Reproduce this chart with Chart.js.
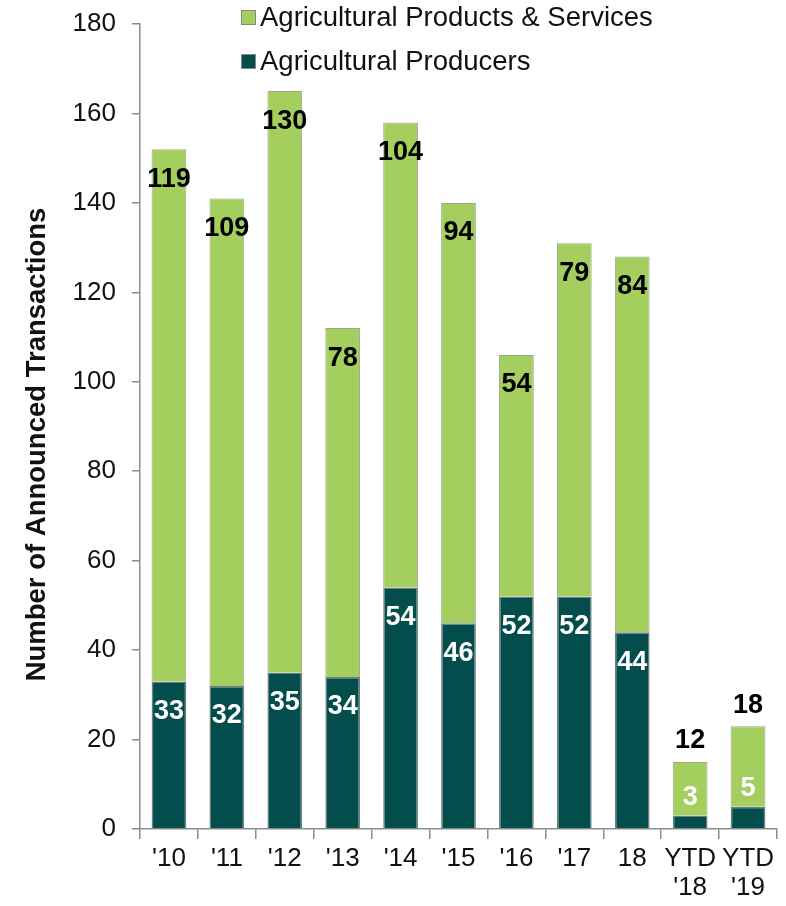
<!DOCTYPE html>
<html>
<head>
<meta charset="utf-8">
<script src="https://cdn.jsdelivr.net/npm/chart.js@4.4.1/dist/chart.umd.min.js"></script>
<style>
  html, body { margin: 0; padding: 0; background: #fff; }
  #wrap { position: relative; width: 786px; height: 906px; }
  .legend { position: absolute; left: 241px; font: 27.5px 'Liberation Sans', Arial, sans-serif; color: #111; display: flex; align-items: center; height: 32px; }
  .legend span.box { display: inline-block; width: 15px; height: 15px; margin-right: 4px; border: 1px solid #888; box-sizing: border-box; }
</style>
</head>
<body>
<div id="wrap">
  <canvas id="myChart" width="786" height="906"></canvas>
  <div class="legend" style="top:1px"><span class="box" style="background:#A4CF5E"></span>Agricultural Products &amp; Services</div>
  <div class="legend" style="top:45px"><span class="box" style="background:#034E4C"></span>Agricultural Producers</div>
</div>
<script>
let labels = ["'10", "'11", "'12", "'13", "'14", "'15", "'16", "'17", "18", ['YTD', "'18"], ['YTD', "'19"]];
let producers = [33, 32, 35, 34, 54, 46, 52, 52, 44, 3, 5];
let productsServices = [119, 109, 130, 78, 104, 94, 54, 79, 84, 12, 18];
let colorHex = ['#034E4C', '#A4CF5E'];
let yTitle = 'Number of Announced Transactions';
let fontFamily = '"Liberation Sans", Arial, sans-serif';

// value labels: near the top of each segment, above the segment when the bar is short
let valueLabels = {
    id: 'valueLabels',
    afterDatasetsDraw(chart) {
        let c = chart.ctx;
        c.save();
        c.font = 'bold 27px ' + fontFamily;
        c.textAlign = 'center';
        c.textBaseline = 'middle';
        chart.data.datasets.forEach((ds, i) => {
            chart.getDatasetMeta(i).data.forEach((bar, j) => {
                let tall = chart.data.datasets[0].data[j] > 20;
                let y;
                if (tall) {
                    y = bar.y + 30;
                } else {
                    y = i === 0 ? bar.y - 18 : bar.y - 21;
                }
                c.fillStyle = i === 0 ? '#fff' : '#000';
                c.fillText(ds.data[j], bar.x, y);
            });
        });
        // y axis title, sits a bit lower than the axis middle
        let area = chart.chartArea;
        c.translate(37, (area.top + area.bottom) / 2 + 18);
        c.rotate(-Math.PI / 2);
        c.fillStyle = '#111';
        c.font = 'bold 27.5px ' + fontFamily;
        c.fillText(yTitle, 0, 0);
        c.restore();
    }
};

let ctx = document.getElementById('myChart').getContext('2d');
let myChart = new Chart(ctx, {
    type: 'bar',
    data: {
        labels: labels,
        datasets: [{
            label: 'Agricultural Producers',
            data: producers,
            backgroundColor: colorHex[0],
            borderColor: '#6b7f7f',
            borderWidth: 1.5,
            categoryPercentage: 1,
            barPercentage: 0.6
        }, {
            label: 'Agricultural Products & Services',
            data: productsServices,
            backgroundColor: colorHex[1],
            borderColor: '#9aa88a',
            borderWidth: 1,
            categoryPercentage: 1,
            barPercentage: 0.6
        }]
    },
    options: {
        responsive: false,
        animation: false,
        layout: { padding: { top: 24, right: 9 } },
        plugins: {
            legend: { display: false },
            tooltip: { enabled: false }
        },
        scales: {
            x: {
                stacked: true,
                grid: { display: true, drawOnChartArea: false, tickLength: 10, color: '#8c8c8c', lineWidth: 1.5 },
                border: { color: '#8c8c8c', width: 1.5 },
                ticks: { color: '#111', font: { size: 26, family: fontFamily, lineHeight: 1.1 }, padding: 6, maxRotation: 0, autoSkip: false },
                afterFit: (axis) => { axis.height = 77; }
            },
            y: {
                stacked: true,
                min: 0,
                max: 180,
                ticks: { stepSize: 20, color: '#111', font: { size: 26, family: fontFamily, lineHeight: 0.5 }, padding: 16 },
                grid: { drawOnChartArea: false, tickLength: 8, color: '#8c8c8c', lineWidth: 1.5 },
                border: { color: '#8c8c8c', width: 1.5 },
                afterFit: (axis) => { axis.width = 140; }
            }
        }
    },
    plugins: [valueLabels]
});
</script>
</body>
</html>
